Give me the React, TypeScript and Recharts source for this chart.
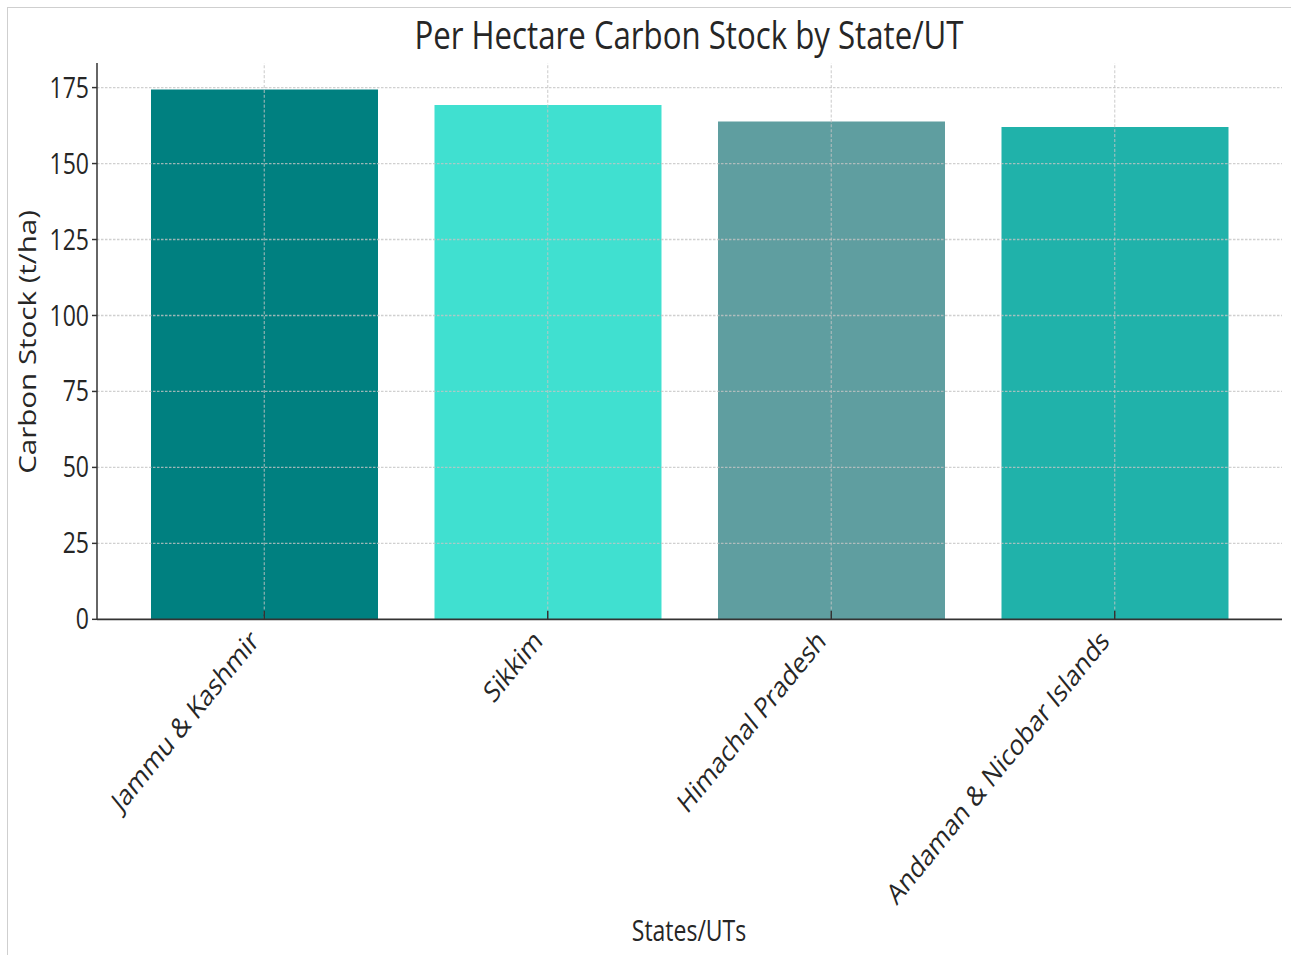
import React from 'react';
import { BarChart, Bar, XAxis, YAxis, Cell, ReferenceLine } from 'recharts';

const states = ['Jammu & Kashmir', 'Sikkim', 'Himachal Pradesh', 'Andaman & Nicobar Islands'];
const carbonStock = [174.4, 169.3, 163.8, 162.0];
const barColors = ['#008080', '#40E0D0', '#5F9EA0', '#20B2AA'];
const yTicks = [0, 25, 50, 75, 100, 125, 150, 175];

const data = states.map((s, i) => ({ state: s, value: carbonStock[i] }));

const S = 1.23;
const W = 1291;
const H = 955 / S;
const FONT = "'Open Sans', 'Noto Sans', sans-serif";
const TXT = '#262626';
const GRID = '#c4c4c4';

const XTick = (props: any) => {
  const { x, y, payload } = props;
  const ax = x - 4;
  const ay = y + 19;
  return (
    <g>
      <line x1={x} y1={y} x2={x} y2={y - 7} stroke="#333" strokeWidth={1.5} />
      <text
        x={ax}
        y={ay}
        textAnchor="end"
        transform={`rotate(-45, ${ax}, ${ay})`}
        fontSize={23.4}
        fill={TXT}
        fontFamily={FONT}
      >
        {payload.value}
      </text>
    </g>
  );
};

export default function App() {
  return (
    <div style={{ position: 'absolute', left: 0, top: 0, width: 1291, height: 955, overflow: 'hidden', background: '#fff' }}>
      <div
        style={{
          position: 'absolute',
          left: 7,
          top: 7,
          right: -4,
          bottom: -4,
          borderLeft: '1px solid #cfcfcf',
          borderTop: '1px solid #cfcfcf',
        }}
      />
      <div style={{ position: 'absolute', left: 0, top: 0, width: W, height: H, transform: `scaleY(${S})`, transformOrigin: '0 0' }}>
        <BarChart width={W} height={H} data={data} margin={{ top: 51.2, right: 9, left: 0, bottom: 0 }} barCategoryGap={28.5}>
          <XAxis
            dataKey="state"
            height={272.9}
            padding={{ left: 25.5, right: 25.5 }}
            tickSize={0}
            tickMargin={0}
            tickLine={false}
            interval={0}
            axisLine={{ stroke: '#333', strokeWidth: 1.5 }}
            tick={<XTick />}
          />
          <YAxis
            width={97}
            domain={[0, 183.1]}
            ticks={yTicks}
            interval={0}
            tickSize={5}
            tickMargin={3}
            axisLine={{ stroke: '#333', strokeWidth: 1.5 }}
            tickLine={{ stroke: '#333', strokeWidth: 1.2 }}
            tick={{ fontSize: 23, fill: TXT, fontFamily: FONT }}
          />
          <Bar dataKey="value" isAnimationActive={false}>
            {data.map((d, i) => (
              <Cell key={d.state} fill={barColors[i]} />
            ))}
          </Bar>
          {yTicks
            .filter((t) => t > 0)
            .map((t) => (
              <ReferenceLine key={'y' + t} y={t} stroke={GRID} strokeOpacity={0.8} strokeWidth={1.1} strokeDasharray="2.5 1.5" />
            ))}
          {states.map((s) => (
            <ReferenceLine key={'x' + s} x={s} stroke={GRID} strokeOpacity={0.8} strokeWidth={1.1} strokeDasharray="2.5 1.5" />
          ))}
        </BarChart>
        <svg style={{ position: 'absolute', left: 0, top: 0, pointerEvents: 'none' }} width={W} height={H}>
          <text x={689} y={40.1} textAnchor="middle" fontSize={31.2} fill={TXT} fontFamily={FONT}>
            Per Hectare Carbon Stock by State/UT
          </text>
          <text
            x={36}
            y={278}
            textAnchor="middle"
            transform={`rotate(-90, 36, 278)`}
            fontSize={24}
            fill={TXT}
            fontFamily={FONT}
          >
            Carbon Stock (t/ha)
          </text>
          <text x={689} y={765} textAnchor="middle" fontSize={23} fill={TXT} fontFamily={FONT}>
            States/UTs
          </text>
        </svg>
      </div>
    </div>
  );
}
